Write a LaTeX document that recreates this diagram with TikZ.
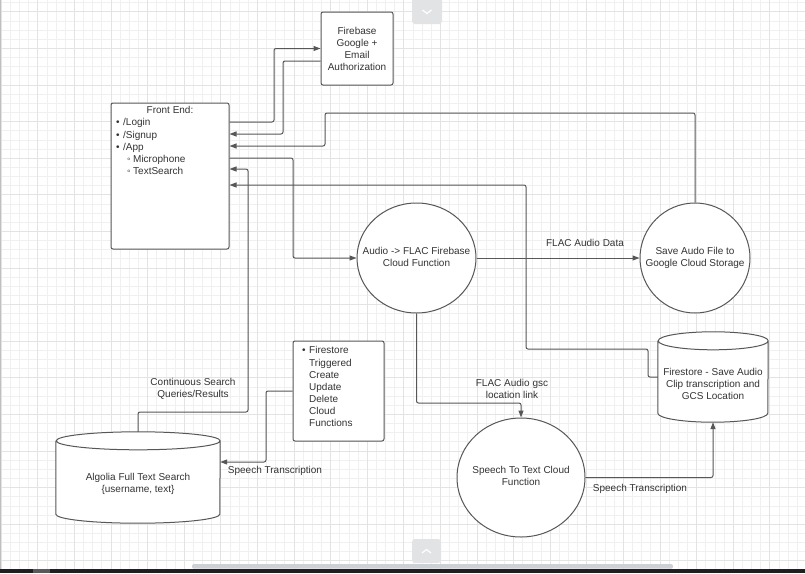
\documentclass[tikz,border=0pt]{standalone}
\usepackage{fontspec}
\setmainfont{Liberation Sans}
\usetikzlibrary{arrows.meta,shapes.geometric,positioning}
\definecolor{inkline}{HTML}{575757}
\definecolor{inktext}{HTML}{333333}
\definecolor{gridminor}{HTML}{F0F0F0}
\definecolor{gridmajor}{HTML}{E3E3E3}
\definecolor{uibutton}{HTML}{E2E3E5}
\definecolor{uibar}{HTML}{CDD0D4}
\newcommand\labelfont{\fontsize{10}{12}\selectfont}
\newcommand\slimtext[1]{\makebox[0pt][c]{\begin{tabular}{@{}c@{}}#1\end{tabular}}}
\def\dbshape(#1)(#2){\draw[draw=inkline, line width=1pt, fill=white] ([yshift=-9pt]#1.north west) -- ([yshift=9pt]#1.south west) arc[start angle=180, end angle=360, x radius=#2, y radius=9pt] -- ([yshift=-9pt]#1.north east) arc[start angle=0, end angle=180, x radius=#2, y radius=9pt] arc[start angle=180, end angle=360, x radius=#2, y radius=9pt];}
\tikzset{
	block/.style={draw=inkline, line width=1pt, fill=white, rounded corners=2pt, inner sep=0pt, align=center, font=\labelfont, text=inktext},
	bubble/.style={ellipse, draw=inkline, line width=1pt, fill=white, inner sep=0pt, font=\labelfont, text=inktext},
	store/.style={inner sep=0pt},
	tag/.style={font=\labelfont, text=inktext, align=center, inner sep=0pt},
	entry/.style={tag, anchor=west, text height=7.5pt, text depth=2pt},
	link/.style={draw=inkline, line width=1pt, rounded corners=2pt, -{Triangle[length=7pt,width=5pt]}},
}
\begin{document}
\begin{tikzpicture}[x=1pt, y=-1pt]
		%%%%% START %%%%%
		
		\fill[white] (0, 0) rectangle (805, 573);
		\useasboundingbox (0, 0) rectangle (805, 573);
		
		% grid
		\foreach \i in {0,...,88} \draw[gridminor, line width=0.6pt] ({1.1+9.15*\i}, 0) -- ++(0, 569);
		\foreach \j in {-1,...,61} \draw[gridminor, line width=0.6pt] (0, {11.7+9.15*\j}) -- ++(805, 0);
		\foreach \i in {0,4,...,88} \draw[gridmajor, line width=0.8pt] ({1.1+9.15*\i}, 0) -- ++(0, 569);
		\foreach \j in {0,4,...,60} \draw[gridmajor, line width=0.8pt] (0, {11.7+9.15*\j}) -- ++(805, 0);
		\fill[black!25] (0, 0) rectangle (1.3, 569);
		
		% shapes
		\node[block, minimum width=72pt, minimum height=73pt] (fire) at (357, 48.5) {Firebase\\Google +\\Email\\Authorization};
		\node[block, minimum width=118pt, minimum height=146pt] (front) at (170, 176) {};
		\node[block, minimum width=91pt, minimum height=100pt] (trig) at (338.5, 391) {};
		\node[bubble, minimum width=119pt, minimum height=110pt] (audio) at (416.5, 258) {\slimtext{Audio -> FLAC Firebase\\Cloud Function}};
		\node[bubble, minimum width=110pt, minimum height=110pt] (save) at (695, 258) {\slimtext{Save Audo File to\\Google Cloud Storage}};
		\node[bubble, minimum width=128pt, minimum height=119pt] (speech) at (521, 477.5) {\slimtext{Speech To Text Cloud\\Function}};
		
		\node[store, minimum width=110pt, minimum height=90pt] (fstore) at (713, 377) {};
		\dbshape(fstore)(55pt)
		\node[tag] (fstoretext) at (713, 384) {Firestore - Save Audio\\Clip transcription and\\GCS Location};
		
		\node[store, minimum width=164pt, minimum height=91pt] (algolia) at (138, 477.5) {};
		\dbshape(algolia)(82pt)
		\node[tag] (algoliatext) at (138, 484) {Algolia Full Text Search\\\{username, text\}};
		
		% list texts
		\node[tag] (fronthead) at (170, 110) {Front End:};
		\foreach \txt [count=\k] in {/Login, /Signup, /App}
			\node[entry] (fe\k) at (116, {111+12.2*\k}) {\makebox[7pt][l]{•}\txt};
		\foreach \txt [count=\k from 4] in {Microphone, TextSearch}
			\node[entry] (fe\k) at (127, {111+12.2*\k}) {\makebox[6pt][l]{◦}\txt};
		\node[entry] (tr1) at (302, 351.2) {\makebox[7pt][l]{•}Firestore};
		\foreach \txt [count=\k from 2] in {Triggered, Create, Update, Delete, Cloud, Functions}
			\node[entry] (tr\k) at (309, {339.1+12.1*\k}) {\txt};
		
		% connectors
		\draw[link] (front.east |- 0,122) -- (274, 122) -- (274, 48.5) -- (fire.west);
		\draw[link] (fire.west |- 0,61) -- (283, 61) -- (283, 134) -- (front.east |- 0,134);
		\draw[link] (save.north) -- (695, 113) -- (325, 113) -- (325, 146) -- (front.east |- 0,146);
		\draw[link] (front.east |- 0,158) -- (293, 158) -- (293, 258) -- (audio.west);
		\draw[link] (algolia.north) -- (138, 412) -- (248, 412) -- (248, 169) -- (front.east |- 0,169);
		\draw[link] (fstore.west) -- (648, 377) -- (648, 349) -- (526, 349) -- (526, 185) -- (front.east |- 0,185);
		\draw[link] (audio.east) -- (save.west);
		\draw[link] (audio.south) -- (416.5, 403) -- (521, 403) -- (speech.north);
		\draw[link] (speech.east) -- (713, 477.5) -- (fstore.south);
		\draw[link] (trig.west) -- (266, 391) -- (266, 462) -- (algolia.east |- 0,462);
		
		% connector labels
		\node[tag] (flacdata) at (585, 243) {FLAC Audio Data};
		\node[tag] (searchq) at (193, 389) {Continuous Search\\Queries/Results};
		\node[tag] (gsclink) at (512, 389) {FLAC Audio gsc\\location link};
		\node[tag] (transA) at (640, 489) {Speech Transcription};
		\node[tag] (transB) at (275, 471) {Speech Transcription};
		
		% screen bits
		\fill[uibutton, rounded corners=3pt] (412, -5) rectangle (442, 24);
		\draw[white, line width=1.2pt] (422.5, 10) -- (427, 13.5) -- (431.5, 10);
		\fill[uibutton, rounded corners=3pt] (412, 539) rectangle (441, 563);
		\draw[white, line width=1.2pt] (422, 553) -- (426.5, 549.5) -- (431, 553);
		\fill[uibar, rounded corners=2pt] (192, 564) rectangle (673, 568.7);
		\fill[black!88] (0, 569) rectangle (805, 573);
		\fill[black!65] (33, 569) rectangle (50, 573);
		
		%%%%% END %%%%%
	\end{tikzpicture}
\end{document}
